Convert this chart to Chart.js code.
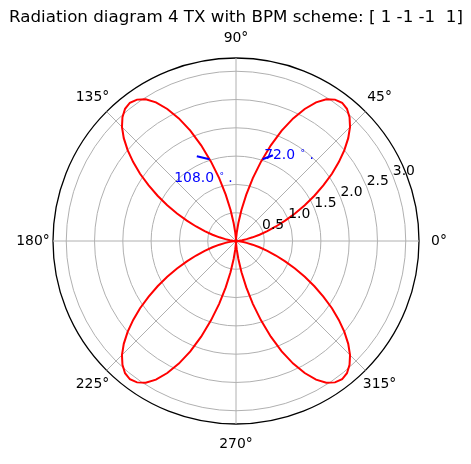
<!DOCTYPE html>
<html><head><meta charset="utf-8">
<script src="https://cdn.jsdelivr.net/npm/chart.js@4/dist/chart.umd.min.js"></script>
<style>html,body{margin:0;padding:0;background:#fff}canvas{display:block}</style>
</head><body>
<canvas id="c" width="471" height="464"></canvas>
<script>
// angle of each sample (degrees, counter-clockwise from 0° at the right)
const thetaDeg = [
  0,2.5,5,7.5,10,12.5,15,17.5,20,22.5,25,27.5,30,32.5,35,37.5,40,42.5,45,47.5,50,52.5,55,57.5,60,62.5,65,67.5,70,72.5,75,77.5,80,82.5,85,87.5,
  90,92.5,95,97.5,100,102.5,105,107.5,110,112.5,115,117.5,120,122.5,125,127.5,130,132.5,135,137.5,140,142.5,145,147.5,150,152.5,155,157.5,160,162.5,165,167.5,170,172.5,175,177.5,
  180,182.5,185,187.5,190,192.5,195,197.5,200,202.5,205,207.5,210,212.5,215,217.5,220,222.5,225,227.5,230,232.5,235,237.5,240,242.5,245,247.5,250,252.5,255,257.5,260,262.5,265,267.5,
  270,272.5,275,277.5,280,282.5,285,287.5,290,292.5,295,297.5,300,302.5,305,307.5,310,312.5,315,317.5,320,322.5,325,327.5,330,332.5,335,337.5,340,342.5,345,347.5,350,352.5,355,357.5
];
// radiation pattern magnitude
const gain = [
  0.00,0.01,0.05,0.11,0.19,0.30,0.43,0.58,0.75,0.94,1.15,1.37,1.60,1.83,2.07,2.29,2.50,2.69,2.85,2.97,3.05,3.08,3.05,2.97,2.83,2.63,2.39,2.11,1.80,1.47,1.15,0.84,0.56,0.32,0.15,0.04,
  0.00,0.04,0.15,0.32,0.56,0.84,1.15,1.47,1.80,2.11,2.39,2.63,2.83,2.97,3.05,3.08,3.05,2.97,2.85,2.69,2.50,2.29,2.07,1.83,1.60,1.37,1.15,0.94,0.75,0.58,0.43,0.30,0.19,0.11,0.05,0.01,
  0.00,0.01,0.05,0.11,0.19,0.30,0.43,0.58,0.75,0.94,1.15,1.37,1.60,1.83,2.07,2.29,2.50,2.69,2.85,2.97,3.05,3.08,3.05,2.97,2.83,2.63,2.39,2.11,1.80,1.47,1.15,0.84,0.56,0.32,0.15,0.04,
  0.00,0.04,0.15,0.32,0.56,0.84,1.15,1.47,1.80,2.11,2.39,2.63,2.83,2.97,3.05,3.08,3.05,2.97,2.85,2.69,2.50,2.29,2.07,1.83,1.60,1.37,1.15,0.94,0.75,0.58,0.43,0.30,0.19,0.11,0.05,0.01
];
const radialTicks = [0.5, 1.0, 1.5, 2.0, 2.5, 3.0];
const radialTickLabels = ['0.5', '1.0', '1.5', '2.0', '2.5', '3.0'];
const rMax = 3.234;
const angleTickDeg = [0, 45, 90, 135, 180, 225, 270, 315];
const angleTickLabels = ['0°', '45°', '90°', '135°', '180°', '225°', '270°', '315°'];
// beam annotations
const peakAngles = [72, 108];
const peakGain = [1.52, 1.52];
const peakTipAngles = [66.7, 114.8];
const peakTipGain = [1.65, 1.65];
const peakLabels = ['72.0', '108.0'];
const peakTextAngles = [71.0, 136.3];
const peakTextGain = [1.53, 1.51];
const titleText = 'Radiation diagram 4 TX with BPM scheme: [ 1 -1 -1  1]';

// radar scale runs clockwise from the top: feed samples in clockwise order
const labelsCW = thetaDeg.slice().reverse();
const gainCW = gain.slice().reverse();

const FONT = '"DejaVu Sans", "Liberation Sans", sans-serif';

const decor = {
  id: 'decor',
  afterDraw(chart) {
    const s = chart.scales.r;
    const ctx = chart.ctx;
    const xc = s.xCenter, yc = s.yCenter;
    const pol = (deg, v) => {
      const d = s.getDistanceFromCenterForValue(v);
      const a = deg * Math.PI / 180;
      return {x: xc + d * Math.cos(a), y: yc - d * Math.sin(a)};
    };
    const polPx = (deg, d) => {
      const a = deg * Math.PI / 180;
      return {x: xc + d * Math.cos(a), y: yc - d * Math.sin(a)};
    };
    ctx.save();
    ctx.fillStyle = '#000';
    ctx.font = '13.9px ' + FONT;
    ctx.textAlign = 'center';
    ctx.textBaseline = 'middle';
    angleTickDeg.forEach((a, i) => {
      const p = polPx(a, s.drawingArea + 20);
      ctx.fillText(angleTickLabels[i], p.x, p.y);
    });
    radialTicks.forEach((v, i) => {
      const p = pol(22.5, v);
      ctx.fillText(radialTickLabels[i], p.x + 11, p.y - 5);
    });
    // annotations
    ctx.strokeStyle = '#0000ff';
    ctx.fillStyle = '#0000ff';
    ctx.lineWidth = 2.2;
    ctx.lineCap = 'butt';
    peakAngles.forEach((a, i) => {
      const p0 = pol(a, peakGain[i]);
      const p1 = pol(peakTipAngles[i], peakTipGain[i]);
      ctx.beginPath(); ctx.moveTo(p0.x, p0.y); ctx.lineTo(p1.x, p1.y); ctx.stroke();
      const t = pol(peakTextAngles[i], peakTextGain[i]);
      ctx.textAlign = 'left';
      ctx.textBaseline = 'alphabetic';
      ctx.font = '13.9px ' + FONT;
      const main = peakLabels[i] + ' ';
      ctx.fillText(main, t.x, t.y);
      let x = t.x + ctx.measureText(main).width;
      ctx.font = '9px ' + FONT;
      ctx.fillText('°', x + 1, t.y - 3);
      x += 1 + ctx.measureText('°').width;
      ctx.font = '13.9px ' + FONT;
      ctx.fillText(' .', x, t.y);
    });
    ctx.restore();
  }
};

new Chart(document.getElementById('c'), {
  type: 'radar',
  data: {
    labels: labelsCW,
    datasets: [{
      data: gainCW,
      borderColor: '#ff0000',
      borderWidth: 2,
      fill: false,
      tension: 0,
      pointRadius: 0,
      pointHoverRadius: 0
    }]
  },
  options: {
    responsive: false,
    animation: false,
    events: [],
    layout: {padding: {left: 1, right: 0, top: 0, bottom: 39}},
    plugins: {
      legend: {display: false},
      tooltip: {enabled: false},
      title: {
        display: true,
        text: titleText,
        color: '#000',
        font: {family: FONT, size: 16.7, weight: 'normal', lineHeight: 1.2},
        padding: {top: 8, bottom: 29}
      }
    },
    scales: {
      r: {
        min: 0,
        max: rMax,
        startAngle: 90 - labelsCW[0],
        afterBuildTicks: (scale) => {
          scale.ticks = [0].concat(radialTicks, [rMax]).map(v => ({value: v}));
        },
        ticks: {display: false},
        pointLabels: {display: false},
        grid: {
          circular: true,
          color: (c) => (c.tick && c.tick.value >= rMax - 1e-6) ? '#000' : '#b0b0b0',
          lineWidth: (c) => (c.tick && c.tick.value >= rMax - 1e-6) ? 1.3 : 1.0
        },
        angleLines: {
          display: true,
          color: '#b0b0b0',
          lineWidth: (c) => (Number(c.label) % 45 === 0) ? 1.0 : 0
        }
      }
    }
  },
  plugins: [decor]
});
</script>
</body></html>
